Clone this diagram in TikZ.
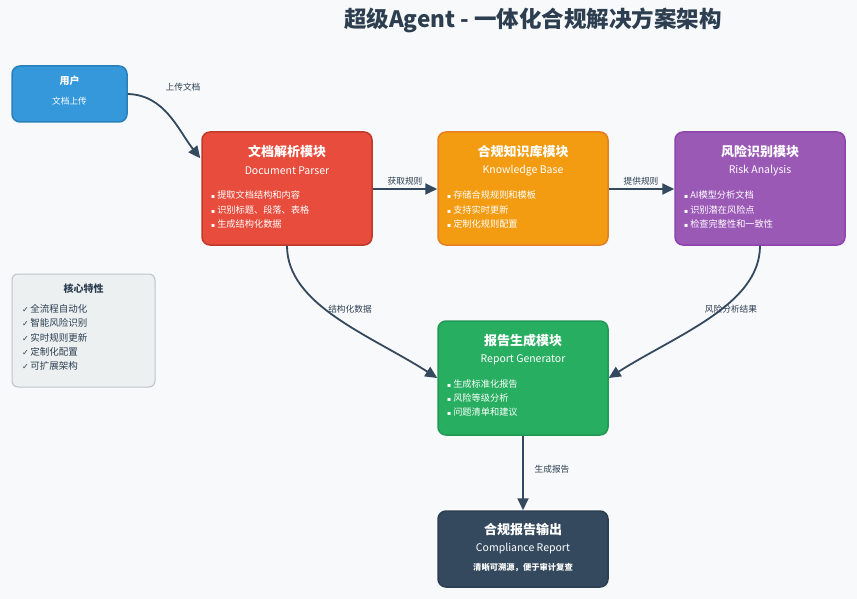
\documentclass[tikz,border=0pt]{standalone}
\usepackage{fontspec}
\setmainfont{Noto Sans CJK SC}
\newfontfamily\symf{DejaVu Sans}
\usetikzlibrary{arrows.meta,calc}
\definecolor{bgc}{HTML}{F8F9FA}
\definecolor{ink}{HTML}{2C3E50}
\definecolor{arr}{HTML}{34495E}
\definecolor{blueF}{HTML}{3498DB}\definecolor{blueB}{HTML}{2980B9}
\definecolor{redF}{HTML}{E74C3C}\definecolor{redB}{HTML}{C0392B}
\definecolor{orgF}{HTML}{F39C12}\definecolor{orgB}{HTML}{E67E22}
\definecolor{purF}{HTML}{9B59B6}\definecolor{purB}{HTML}{8E44AD}
\definecolor{grnF}{HTML}{27AE60}\definecolor{grnB}{HTML}{229954}
\definecolor{dkF}{HTML}{34495E}\definecolor{dkB}{HTML}{2C3E50}
\definecolor{grayF}{HTML}{ECF0F1}\definecolor{grayB}{HTML}{BDC3C7}
\tikzset{
  box/.style={rounded corners=8pt, line width=1.5pt, inner sep=0pt},
  mtitle/.style={text=white, font=\fontsize{13}{15}\selectfont\bfseries, inner sep=0pt},
  msub/.style={text=white, font=\fontsize{10.5}{12}\selectfont, inner sep=0pt},
  bul/.style={text=white, font=\fontsize{9.2}{11}\selectfont, anchor=west, inner sep=0pt},
  lbl/.style={text=ink, font=\fontsize{8.7}{10}\selectfont, inner sep=0pt},
  conn/.style={draw=arr, line width=1.8pt, -{Triangle[length=12pt,width=11pt]}},
  feat/.style={text=ink, font=\fontsize{9.5}{11}\selectfont, anchor=west, inner sep=0pt}
}
\newcommand{\bl}{{\symf\fontsize{6}{8}\selectfont ▪}\hspace{2pt}}
\begin{document}
\begin{tikzpicture}[x=1pt,y=-1pt]
\fill[bgc] (0,0) rectangle (857,599);
\useasboundingbox (0,0) rectangle (857,599);
\node[text=ink, font=\fontsize{22.5}{26}\selectfont\bfseries, inner sep=0pt] (title) at (533,20) {超级Agent - 一体化合规解决方案架构};

% user
\node[box, fill=blueF, draw=blueB, minimum width=115pt, minimum height=56pt] (user) at (69.5,94) {};
\node[text=white, font=\fontsize{10}{12}\selectfont\bfseries, inner sep=0pt] (userT) at (69.5,81) {用户};
\node[text=white, font=\fontsize{8.7}{10}\selectfont, inner sep=0pt] (userS) at (69.5,101) {文档上传};

% parser
\node[box, fill=redF, draw=redB, minimum width=170pt, minimum height=113pt] (parser) at (287,188.5) {};
\node[mtitle] (parserT) at (287,152) {文档解析模块};
\node[msub] (parserS) at (287,171) {Document Parser};
\node[bul] (p1) at (211,195) {\bl 提取文档结构和内容};
\node[bul] (p2) at (211,210) {\bl 识别标题、段落、表格};
\node[bul] (p3) at (211,224) {\bl 生成结构化数据};

% knowledge
\node[box, fill=orgF, draw=orgB, minimum width=170pt, minimum height=113pt] (know) at (523,188.5) {};
\node[mtitle] (knowT) at (523,152) {合规知识库模块};
\node[msub] (knowS) at (523,171) {Knowledge Base};
\node[bul] (k1) at (447,195) {\bl 存储合规规则和模板};
\node[bul] (k2) at (447,210) {\bl 支持实时更新};
\node[bul] (k3) at (447,224) {\bl 定制化规则配置};

% risk
\node[box, fill=purF, draw=purB, minimum width=170pt, minimum height=113pt] (risk) at (760,188.5) {};
\node[mtitle] (riskT) at (760,152) {风险识别模块};
\node[msub] (riskS) at (760,171) {Risk Analysis};
\node[bul] (r1) at (684,195) {\bl AI模型分析文档};
\node[bul] (r2) at (684,210) {\bl 识别潜在风险点};
\node[bul] (r3) at (684,224) {\bl 检查完整性和一致性};

% report
\node[box, fill=grnF, draw=grnB, minimum width=170pt, minimum height=114pt] (rep) at (523,378) {};
\node[mtitle] (repT) at (523,341) {报告生成模块};
\node[msub] (repS) at (523,360) {Report Generator};
\node[bul] (g1) at (447,384) {\bl 生成标准化报告};
\node[bul] (g2) at (447,398) {\bl 风险等级分析};
\node[bul] (g3) at (447,412) {\bl 问题清单和建议};

% output
\node[box, fill=dkF, draw=dkB, minimum width=170pt, minimum height=76pt] (out) at (523,549) {};
\node[mtitle] (outT) at (523,530) {合规报告输出};
\node[msub] (outS) at (523,549) {Compliance Report};
\node[text=white, font=\fontsize{8.3}{10}\selectfont\bfseries, inner sep=0pt] (outN) at (523,568) {清晰可溯源，便于审计复查};

% features
\node[box, rounded corners=6pt, line width=1pt, fill=grayF, draw=grayB, minimum width=143pt, minimum height=113pt] (feat) at (83.5,330.5) {};
\node[text=ink, font=\fontsize{10}{12}\selectfont\bfseries, inner sep=0pt] (featT) at (83.5,289) {核心特性};
\node[feat] (f1) at (22,309) {{\symf\fontsize{8}{10}\selectfont ✓}\,全流程自动化};
\node[feat] (f2) at (22,323) {{\symf\fontsize{8}{10}\selectfont ✓}\,智能风险识别};
\node[feat] (f3) at (22,338) {{\symf\fontsize{8}{10}\selectfont ✓}\,实时规则更新};
\node[feat] (f4) at (22,352) {{\symf\fontsize{8}{10}\selectfont ✓}\,定制化配置};
\node[feat] (f5) at (22,366) {{\symf\fontsize{8}{10}\selectfont ✓}\,可扩展架构};

% connectors
\coordinate (pIn) at ($(parser.north west)+(-1,27)$);
\draw[conn] (user.east) .. controls (165,95) and (178,130) .. (pIn);
\node[lbl] (l1) at (183,87) {上传文档};

\coordinate (kIn) at ($(know.west)+(0,0.5)$);
\draw[conn] (parser.east |- kIn) -- (kIn);
\node[lbl] (l2) at (405,181) {获取规则};

\draw[conn] (know.east |- kIn) -- (risk.west |- kIn);
\node[lbl] (l3) at (641,181) {提供规则};

\draw[conn] (parser.south) .. controls (287,305) and (370,335) .. (rep.west);
\node[lbl] (l4) at (350,309) {结构化数据};

\draw[conn] (risk.south) .. controls (760,305) and (676,335) .. (rep.east);
\node[lbl] (l5) at (731,309) {风险分析结果};

\draw[conn] (rep.south) -- (out.north);
\node[lbl] (l6) at (552,469) {生成报告};
\end{tikzpicture}
\end{document}
